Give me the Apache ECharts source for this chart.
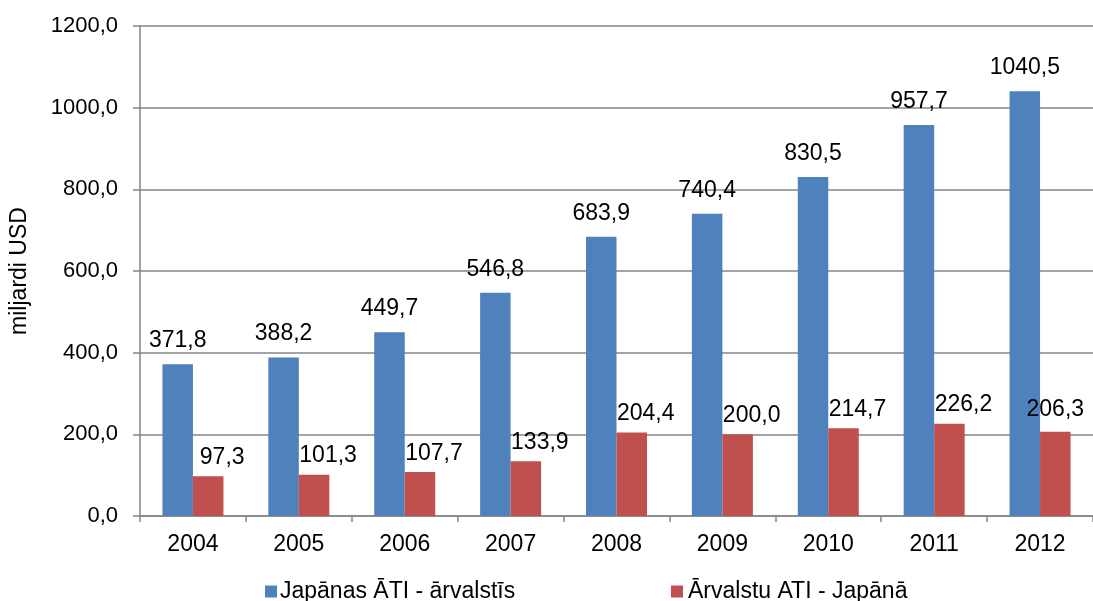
<!DOCTYPE html>
<html>
<head>
<meta charset="utf-8">
<script src="https://cdn.jsdelivr.net/npm/echarts@6/dist/echarts.min.js"></script>
<style>
html,body{margin:0;padding:0;background:#fff;}
#c{width:1093px;height:601px;}
</style>
</head>
<body>
<div id="c"></div>
<script>
var categories = ['2004','2005','2006','2007','2008','2009','2010','2011','2012'];
var japanAbroad = [371.8, 388.2, 449.7, 546.8, 683.9, 740.4, 830.5, 957.7, 1040.5];
var foreignInJapan = [97.3, 101.3, 107.7, 133.9, 204.4, 200.0, 214.7, 226.2, 206.3];
var seriesNames = ['Japānas ĀTI - ārvalstīs', 'Ārvalstu ATI - Japānā'];
var yAxisTitle = 'miljardi USD';

function fmt(v){ return Number(v).toFixed(1).replace('.', ','); }

var FONT = '"Liberation Sans", Arial, sans-serif';
var redData = foreignInJapan.map(function(v, i){
  if (i === foreignInJapan.length - 1) {
    return { value: v, label: { offset: [0, -4] } };
  }
  return v;
});

var chart = echarts.init(document.getElementById('c'));
chart.setOption({
  animation: false,
  backgroundColor: '#fff',
  grid: { left: 139, top: 26, right: -6, bottom: 85, containLabel: false },
  legend: [
    { data: [seriesNames[0]], left: 260, top: 575, itemWidth: 12, itemHeight: 12, itemGap: 6,
      icon: 'rect', textStyle: { fontFamily: FONT, fontSize: 23, color: '#000', padding: [0,0,0,-2] } },
    { data: [seriesNames[1]], left: 666, top: 575, itemWidth: 12, itemHeight: 12, itemGap: 6,
      icon: 'rect', textStyle: { fontFamily: FONT, fontSize: 23, color: '#000', padding: [0,0,0,0] } }
  ],
  xAxis: {
    type: 'category',
    data: categories,
    axisLine: { lineStyle: { color: '#868686', width: 1.5 } },
    axisTick: { show: true, length: 6, alignWithLabel: false, lineStyle: { color: '#868686', width: 1.5 } },
    axisLabel: { fontFamily: FONT, fontSize: 23, color: '#000', margin: 17 }
  },
  yAxis: {
    type: 'value',
    min: 0, max: 1200, interval: 200,
    name: yAxisTitle,
    nameLocation: 'middle',
    nameRotate: 90,
    nameGap: 109,
    nameTextStyle: { fontFamily: FONT, fontSize: 23, color: '#000' },
    axisLine: { show: true, lineStyle: { color: '#868686', width: 1.5 } },
    axisTick: { show: true, length: 7, inside: false, lineStyle: { color: '#868686', width: 1.5 } },
    splitLine: { show: true, lineStyle: { color: '#868686', width: 1.5 } },
    axisLabel: { fontFamily: FONT, fontSize: 22, color: '#000', margin: 22, formatter: function(v){ return fmt(v); } }
  },
  series: [
    { name: seriesNames[0], type: 'bar', data: japanAbroad, barWidth: 30.5, barGap: '0%',
      itemStyle: { color: '#4F81BD' },
      label: { show: true, position: 'top', distance: 12, fontFamily: FONT, fontSize: 23, color: '#000',
        formatter: function(p){ return fmt(p.value); } } },
    { name: seriesNames[1], type: 'bar', data: redData, barWidth: 30.5, barGap: '0%',
      itemStyle: { color: '#C0504D' },
      label: { show: true, position: 'top', distance: 7, offset: [14, 0], fontFamily: FONT, fontSize: 23, color: '#000',
        formatter: function(p){ return fmt(p.value); } } }
  ]
});
</script>
</body>
</html>
